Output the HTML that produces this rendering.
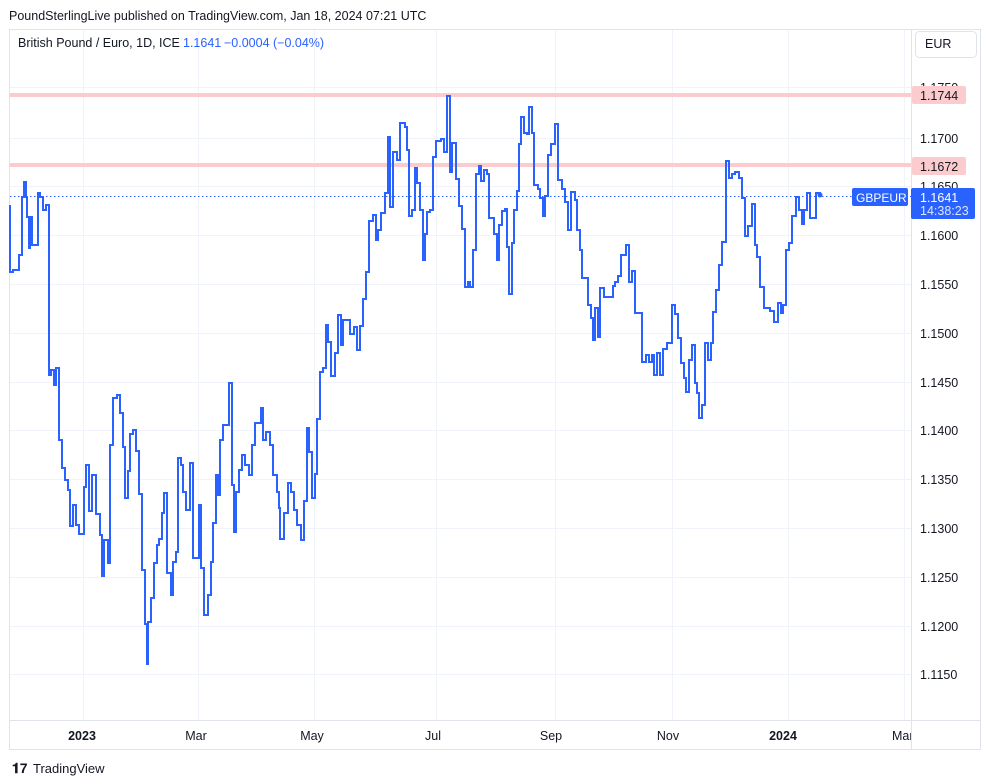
<!DOCTYPE html>
<html><head><meta charset="utf-8"><style>
body{margin:0;background:#fff;width:991px;height:784px;overflow:hidden;font-family:"Liberation Sans",sans-serif;}
</style></head><body>
<svg width="991" height="784" xmlns="http://www.w3.org/2000/svg" style="position:absolute;left:0;top:0">
<text x="9" y="20" font-size="12.5" fill="#131722" font-family="Liberation Sans">PoundSterlingLive published on TradingView.com, Jan 18, 2024 07:21 UTC</text>
<rect x="9.5" y="29.5" width="971" height="720" fill="#fff" stroke="#e0e3eb"/>
<g stroke="#f0f3fa" stroke-width="1">
<line x1="10" x2="911" y1="87.5" y2="87.5"/><line x1="10" x2="911" y1="138.5" y2="138.5"/><line x1="10" x2="911" y1="186.5" y2="186.5"/><line x1="10" x2="911" y1="235.5" y2="235.5"/><line x1="10" x2="911" y1="284.5" y2="284.5"/><line x1="10" x2="911" y1="333.5" y2="333.5"/><line x1="10" x2="911" y1="382.5" y2="382.5"/><line x1="10" x2="911" y1="430.5" y2="430.5"/><line x1="10" x2="911" y1="479.5" y2="479.5"/><line x1="10" x2="911" y1="528.5" y2="528.5"/><line x1="10" x2="911" y1="577.5" y2="577.5"/><line x1="10" x2="911" y1="626.5" y2="626.5"/><line x1="10" x2="911" y1="674.5" y2="674.5"/>
<line x1="83.5" x2="83.5" y1="30" y2="720"/><line x1="198.5" x2="198.5" y1="30" y2="720"/><line x1="314.5" x2="314.5" y1="30" y2="720"/><line x1="436.5" x2="436.5" y1="30" y2="720"/><line x1="555.5" x2="555.5" y1="30" y2="720"/><line x1="672.5" x2="672.5" y1="30" y2="720"/><line x1="788.5" x2="788.5" y1="30" y2="720"/><line x1="904.5" x2="904.5" y1="30" y2="720"/>
</g>
<line x1="911.5" x2="911.5" y1="30" y2="749" stroke="#e0e3eb"/>
<line x1="10" x2="981" y1="720.5" y2="720.5" stroke="#e0e3eb"/>
<rect x="10" y="93" width="901" height="4" fill="#fccbcd"/>
<rect x="10" y="163" width="901" height="4" fill="#fccbcd"/>
<line x1="10" x2="911" y1="196.5" y2="196.5" stroke="#2962ff" stroke-dasharray="1.5,2.5"/>
<path fill="none" stroke="#2962ff" stroke-width="2" stroke-linejoin="miter" d="M10 205 V272 H13 V270 H19 V255 H22 V197 H24 V182 H26 V197 H27 V217 H29 V248 H30 V217 H32 V245 H34 V245 H38 V193 H40 V197 H43 V210 H46 V205 H49 V375 H51 V370 H54 V385 H56 V368 H58 V368 H59 V440 H62 V468 H65 V480 H68 V490 H70 V526 H73 V505 H76 V525 H79 V534 H84 V487 H86 V465 H89 V511 H92 V475 H96 V514 H100 V535 H102 V576 H104 V540 H108 V563 H110 V445 H113 V398 H117 V395 H120 V413 H123 V447 H125 V498 H128 V471 H130 V434 H133 V430 H136 V451 H139 V494 H142 V570 H145 V624 H147 V664 H148 V622 H151 V598 H154 V563 H157 V545 H159 V539 H162 V513 H164 V493 H167 V573 H171 V595 H173 V562 H176 V552 H178 V458 H181 V465 H183 V492 H186 V510 H190 V463 H193 V558 H199 V505 H201 V568 H204 V615 H208 V595 H211 V562 H213 V523 H216 V475 H218 V495 H220 V440 H223 V425 H227 V425 H229 V383 H232 V485 H234 V532 H236 V492 H239 V470 H242 V455 H245 V465 H249 V475 H252 V445 H255 V423 H261 V408 H263 V440 H266 V432 H270 V445 H273 V475 H277 V492 H279 V508 H280 V539 H284 V513 H288 V483 H291 V492 H294 V510 H297 V525 H301 V540 H304 V501 H307 V428 H309 V452 H312 V498 H315 V474 H317 V419 H320 V372 H323 V368 H326 V325 H328 V342 H331 V376 H335 V353 H338 V315 H341 V345 H343 V320 H350 V334 H354 V327 H357 V350 H360 V326 H363 V299 H366 V272 H369 V221 H373 V215 H376 V240 H378 V230 H381 V213 H385 V193 H388 V137 H390 V207 H393 V152 H397 V160 H400 V123 H405 V127 H407 V150 H409 V216 H412 V210 H415 V168 H417 V183 H420 V210 H423 V260 H425 V234 H427 V212 H430 V210 H433 V157 H436 V141 H441 V139 H444 V152 H447 V96 H450 V172 H452 V143 H456 V179 H459 V206 H462 V229 H465 V287 H468 V282 H470 V287 H473 V250 H476 V174 H479 V166 H481 V181 H484 V170 H487 V174 H489 V218 H492 V218 H494 V234 H497 V260 H499 V225 H502 V211 H505 V209 H507 V247 H509 V294 H512 V243 H514 V210 H517 V191 H519 V144 H521 V117 H524 V133 H527 V134 H529 V107 H532 V133 H534 V185 H538 V189 H540 V198 H543 V216 H545 V196 H548 V155 H551 V144 H555 V124 H558 V180 H562 V189 H565 V202 H568 V230 H571 V192 H575 V200 H577 V230 H580 V250 H582 V278 H588 V305 H591 V318 H593 V340 H595 V308 H598 V337 H600 V288 H604 V297 H610 V297 H613 V286 H615 V282 H618 V276 H621 V255 H626 V245 H629 V282 H632 V271 H635 V313 H642 V362 H646 V355 H649 V362 H652 V355 H654 V375 H657 V353 H660 V375 H663 V349 H667 V343 H672 V305 H675 V314 H678 V338 H681 V363 H684 V378 H686 V392 H689 V360 H692 V345 H695 V383 H697 V393 H699 V418 H702 V405 H705 V343 H708 V360 H711 V343 H713 V312 H716 V290 H719 V265 H722 V242 H726 V161 H729 V178 H732 V174 H735 V172 H739 V178 H742 V198 H745 V236 H748 V226 H752 V204 H755 V245 H757 V257 H760 V287 H764 V308 H770 V311 H774 V322 H778 V303 H781 V313 H783 V305 H786 V250 H789 V243 H792 V216 H796 V197 H799 V210 H802 V224 H804 V210 H807 V193 H810 V218 H814 V218 H816 V193 H820 V195"/>
<circle cx="820" cy="195" r="2.5" fill="#2962ff"/>
<g font-size="12.5" fill="#131722" font-family="Liberation Sans">
<text x="920" y="92">1.1750</text><text x="920" y="143">1.1700</text><text x="920" y="191">1.1650</text><text x="920" y="240">1.1600</text><text x="920" y="289">1.1550</text><text x="920" y="338">1.1500</text><text x="920" y="387">1.1450</text><text x="920" y="435">1.1400</text><text x="920" y="484">1.1350</text><text x="920" y="533">1.1300</text><text x="920" y="582">1.1250</text><text x="920" y="631">1.1200</text><text x="920" y="679">1.1150</text>
</g>
<rect x="912" y="86" width="54" height="18" rx="2" fill="#fccbcd"/>
<text x="920" y="100" font-size="12.5" fill="#131722">1.1744</text>
<rect x="912" y="157" width="54" height="18" rx="2" fill="#fccbcd"/>
<text x="920" y="171" font-size="12.5" fill="#131722">1.1672</text>
<rect x="852" y="188" width="56" height="18" rx="2" fill="#2962ff"/>
<text x="856" y="202" font-size="12" fill="#fff">GBPEUR</text>
<rect x="911" y="188" width="64" height="31" rx="2" fill="#2962ff"/>
<text x="920" y="202" font-size="12.5" fill="#fff">1.1641</text>
<text x="920" y="215" font-size="12.5" fill="#dbe4ff">14:38:23</text>
<rect x="915.5" y="31.5" width="61" height="26" rx="4" fill="#fff" stroke="#e0e3eb"/>
<text x="925" y="48" font-size="12.5" fill="#131722">EUR</text>
<text x="18" y="47" font-size="12.5" fill="#131722">British Pound / Euro, 1D, ICE</text>
<text x="183" y="47" font-size="12.5" fill="#2962ff">1.1641</text>
<text x="224" y="47" font-size="12.5" fill="#2962ff">−0.0004 (−0.04%)</text>
<g font-size="12.5" fill="#131722" text-anchor="middle">
<text x="82" y="740" font-weight="bold">2023</text><text x="196" y="740">Mar</text><text x="312" y="740">May</text><text x="433" y="740">Jul</text><text x="551" y="740">Sep</text><text x="668" y="740">Nov</text><text x="783" y="740" font-weight="bold">2024</text>
</g>
<svg x="880" y="725" width="31" height="20"><text x="12" y="15" font-size="12.5" fill="#131722">Mar</text></svg>
<text x="12" y="773" font-size="14" font-weight="bold" fill="#131722">𝟏7</text>
<text x="33" y="773" font-size="13" fill="#131722">TradingView</text>
</svg>
</body></html>
